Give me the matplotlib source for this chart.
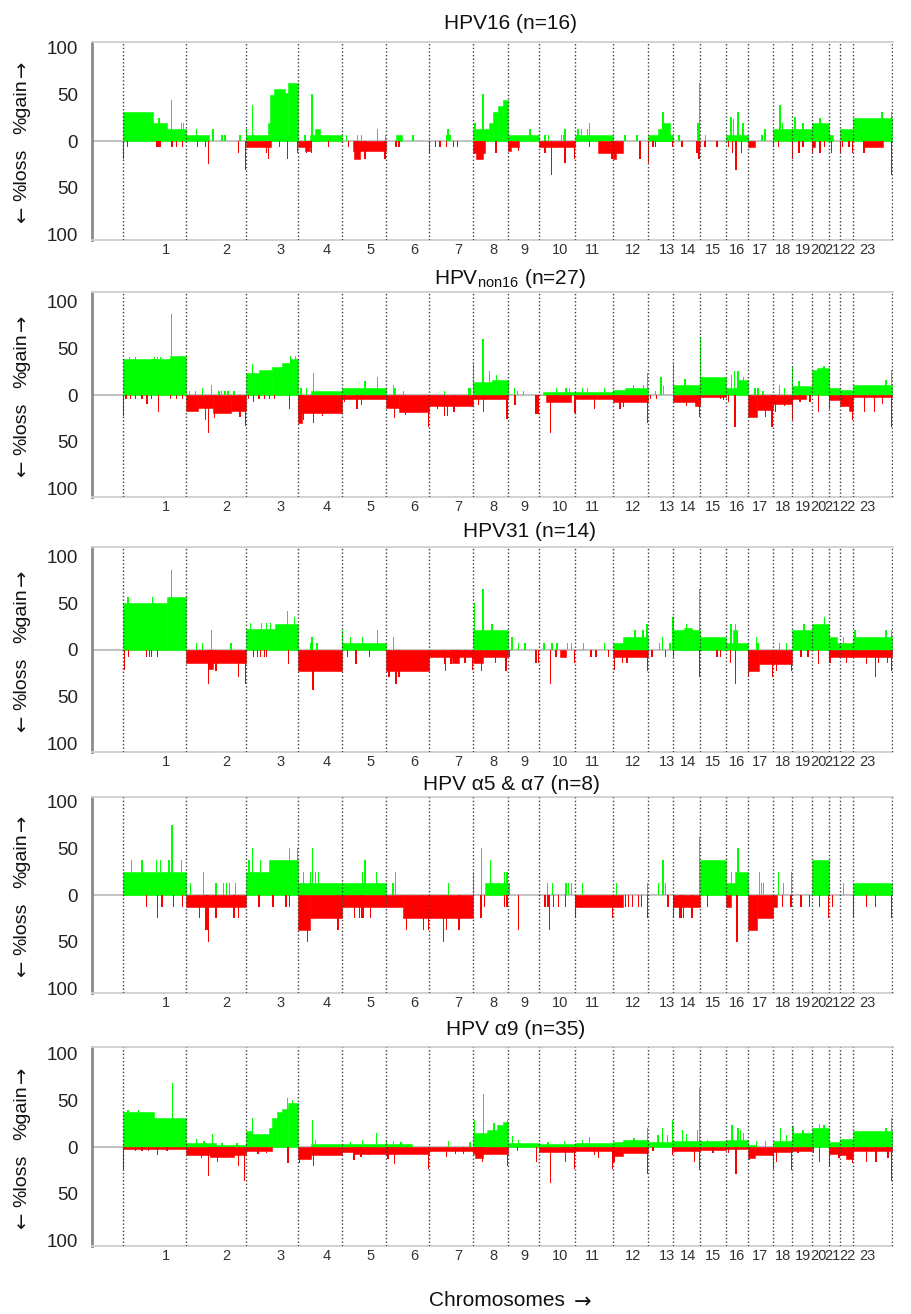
import matplotlib
matplotlib.use('Agg')
import matplotlib.pyplot as plt
import numpy as np

plt.rcParams['font.family'] = ['Liberation Sans', 'DejaVu Sans']
plt.rcParams['mathtext.fontset'] = 'custom'
plt.rcParams['mathtext.rm'] = 'Liberation Sans'
plt.rcParams['mathtext.it'] = 'Liberation Sans:italic'

# ---------------- data ----------------
chromosomes = [str(i) for i in range(1, 24)]
chrom_sizes = [63, 60, 52, 44, 44, 43, 44, 35, 31, 36, 38, 35, 25, 27, 26, 22, 25, 19, 20, 17, 11, 13, 39]
label_frac = [0.68, 0.67, 0.67, 0.66, 0.64, 0.67, 0.66, 0.57, 0.52, 0.58, 0.47, 0.57, 0.76, 0.56,
              0.5, 0.5, 0.48, 0.53, 0.55, 0.35, 0.27, 0.54, 0.38]

titles = ['HPV16 (n=16)', r'HPV$_{\mathrm{non16}}$ (n=27)', 'HPV31 (n=14)',
          'HPV \u03b15 & \u03b17 (n=8)', 'HPV \u03b19 (n=35)']

# segments: (chromosome, start fraction, end fraction, percent)
# spikes:   (chromosome, position fraction, percent)
p1_gain_seg = [(1,0,0.48,31),(1,0.48,0.70,19),(1,0.70,1,13),(2,0,0.38,6),
    (3,0,0.42,6),(3,0.42,0.46,19),(3,0.46,0.54,49),(3,0.54,0.75,56),(3,0.75,0.81,51),(3,0.81,1,62),
    (4,0.27,1,6),(4,0.39,0.5,13),(6,0.23,0.37,6),
    (8,0,0.46,13),(8,0.46,0.57,19),(8,0.57,0.71,31),(8,0.71,0.86,37),(8,0.86,1,44),
    (9,0,1,6),(11,0,1,6),(13,0,1,6),(13,0.4,0.7,13),(13,0.6,0.88,19),(16,0,1,6),
    (18,0,1,13),(19,0,1,13),(20,0,1,19),(21,0,0.4,6),(22,0,1,13),(23,0,1,25)]
p1_gain_spk = [(1,0.57,25),(1,0.77,44),(1,0.93,19),(1,0.96,19),
    (2,0.18,13),(2,0.45,13),(2,0.6,6),(2,0.65,6),(2,0.9,6),(3,0.13,38),(3,0.01,13),
    (4,0.16,6),(4,0.3,19),(4,0.32,50),(5,0.11,6),(5,0.36,6),(5,0.45,6),(5,0.8,13),(5,0.99,6),
    (6,0.63,6),(7,0.39,6),(7,0.43,13),(7,0.48,6),(8,0.06,19),(8,0.29,50),(9,0.71,13),
    (10,0.17,6),(10,0.26,6),(10,0.63,6),(10,0.69,6),(10,0.72,13),
    (11,0.08,13),(11,0.18,13),(11,0.32,13),(11,0.39,19),(12,0.34,6),(12,0.69,6),(13,0.6,31),
    (14,0.22,6),(14,0.93,19),(14,0.98,62),(15,0.2,6),
    (16,0.23,26),(16,0.33,23),(16,0.55,31),(16,0.77,19),(17,0.56,6),(17,0.68,13),
    (18,0.37,38),(18,0.5,19),(19,0.15,26),(19,0.55,19),(20,0.47,25),(23,0.74,31),(23,0.99,31)]
p1_loss_seg = [(3,0,0.48,6),(4,0,0.3,6),(4,0.16,0.27,11),(5,0.25,1,11),(5,0.27,0.41,19),
    (8,0,0.34,13),(8,0.1,0.28,19),(9,0,0.35,6),(9,0,0.1,11),(10,0,1,6),(11,0.6,1,13),
    (12,0,0.3,13),(12,0,0.1,19),(14,0.85,1,6),(17,0,0.3,6),(20,0,0.15,6),(23,0.25,0.78,6)]
p1_loss_spk = [(1,0.01,19),(1,0.07,6),(1,0.54,6),(1,0.57,6),(1,0.6,6),(1,0.78,6),(1,0.85,6),(1,0.94,6),
    (2,0.19,6),(2,0.33,6),(2,0.38,25),(2,0.88,13),(2,0.99,31),
    (3,0.4,13),(3,0.43,19),(3,0.65,6),(3,0.8,19),(3,0.99,13),(4,0.2,13),(4,0.3,13),(4,0.7,6),
    (5,0.14,6),(5,0.52,19),(5,0.98,19),(6,0.23,6),(6,0.3,6),
    (7,0.01,13),(7,0.14,6),(7,0.25,6),(7,0.39,6),(7,0.55,6),(7,0.64,6),(8,0.66,13),(9,0.33,11),
    (10,0.17,13),(10,0.34,36),(10,0.72,24),(10,0.99,19),(11,0.39,6),(11,0.97,19),
    (12,0.77,19),(13,0.01,24),(13,0.2,6),(13,0.3,6),(13,0.99,6),(14,0.33,6),(14,0.89,13),(14,0.96,19),
    (15,0.19,6),(15,0.65,6),(16,0.1,6),(16,0.3,13),(16,0.45,31),(16,0.7,13),(18,0.01,6),(18,0.3,6),
    (19,0.02,19),(19,0.35,13),(19,0.55,6),(20,0.05,13),(20,0.47,13),(20,0.75,6),(21,0.25,13),
    (22,0.02,13),(22,0.2,6),(22,0.7,6),(22,0.95,13),(23,0.28,13),(23,0.76,6),(23,0.99,36)]

p2_gain_seg = [(1,0,0.75,38),(1,0.75,1,42),
    (3,0,0.25,24),(3,0.25,0.5,27),(3,0.5,0.7,30),(3,0.7,0.85,34),(3,0.85,1,38),
    (4,0.3,1,4),(5,0,1,8),(8,0,1,14),(8,0.55,1,16),(10,0.1,1,3),(11,0,1,3),
    (12,0,0.35,5),(12,0.35,1,8),(14,0,1,11),(15,0,1,19),(16,0,0.5,8),(16,0.5,1,16),
    (19,0,1,10),(20,0,0.3,27),(20,0.3,1,29),(21,0,1,7),(22,0,1,5),(23,0,1,11)]
p2_gain_spk = [(1,0.1,41),(1,0.2,41),(1,0.5,41),(1,0.55,41),(1,0.6,41),(1,0.77,87),
    (2,0.06,4),(2,0.16,4),(2,0.27,8),(2,0.42,11),(2,0.55,4),(2,0.59,4),(2,0.65,4),(2,0.7,4),(2,0.8,4),
    (3,0.13,33),(3,0.85,42),(3,0.95,42),(4,0.07,7),(4,0.2,7),(4,0.35,23),(5,0.52,15),(5,0.8,19),
    (6,0.17,11),(6,0.21,8),(6,0.4,4),(7,0.36,4),(7,0.9,8),(7,0.93,8),
    (8,0.01,34),(8,0.29,60),(8,0.47,26),(8,0.68,21),(9,0.2,7),(9,0.3,4),(9,0.5,4),
    (10,0.48,8),(10,0.75,8),(10,0.85,7),(11,0.2,8),(11,0.32,8),(11,0.78,7),
    (12,0.58,11),(12,0.88,11),(12,0.98,23),(13,0.3,4),(13,0.52,19),(13,0.62,10),
    (14,0.01,34),(14,0.45,17),(15,0.01,62),(16,0.25,21),(16,0.4,26),(16,0.55,26),(16,0.78,19),
    (17,0.28,8),(17,0.4,8),(17,0.6,4),(18,0.35,11),(18,0.6,7),(19,0.01,31),(19,0.35,15),
    (20,0.7,31),(23,0.85,16),(23,0.99,27)]
p2_loss_seg = [(2,0,0.2,17),(2,0.2,0.45,14),(2,0.45,0.75,19),(2,0.75,1,17),
    (4,0,1,19),(4,0,0.1,30),(5,0,1,4),(6,0,0.3,14),(6,0.3,1,18),(7,0,1,12),(8,0,1,4),
    (10,0.2,0.9,7),(11,0,1,4),(12,0,1,8),(14,0,1,7),(14,0.8,1,12),(15,0,1,2),
    (17,0,0.35,23),(17,0.35,1,16),(18,0,1,10),(19,0,0.7,4),(21,0,1,5),(22,0,0.7,12),(22,0.7,1,17),(23,0,1,2)]
p2_loss_spk = [(1,0.01,22),(1,0.05,4),(1,0.12,4),(1,0.2,4),(1,0.3,4),(1,0.38,10),(1,0.45,4),(1,0.56,18),
    (1,0.75,4),(1,0.85,4),(1,0.95,4),(2,0.33,27),(2,0.38,41),(2,0.48,25),(2,0.9,23),(2,0.99,33),
    (3,0.05,4),(3,0.15,7),(3,0.25,4),(3,0.35,4),(3,0.45,4),(3,0.55,4),(3,0.83,15),
    (4,0.12,27),(4,0.35,30),(4,0.55,22),(5,0.06,7),(5,0.34,15),(5,0.45,11),
    (6,0.2,25),(6,0.45,21),(6,0.99,34),(7,0.2,15),(7,0.36,22),(7,0.42,22),(7,0.57,18),
    (8,0.15,11),(8,0.3,18),(8,0.97,26),(9,0.23,11),(9,0.9,20),(9,0.97,20),
    (10,0.31,41),(10,0.45,7),(10,0.99,19),(11,0.02,19),(11,0.52,15),
    (12,0.2,15),(12,0.3,13),(12,0.98,30),(13,0.1,4),(13,0.35,4),(14,0.5,12),(14,0.98,23),
    (15,0.8,4),(15,0.9,5),(16,0.1,7),(16,0.41,34),(17,0.7,23),(17,0.96,34),(18,0.15,18),(18,0.6,12),
    (19,0.01,27),(19,0.4,7),(19,0.9,7),(20,0.4,18),(21,0.05,15),(22,0.97,27),
    (23,0.3,18),(23,0.56,18),(23,0.75,10),(23,0.99,34)]

p3_gain_seg = [(1,0,0.7,50),(1,0.7,1,57),(3,0,0.55,22),(3,0.55,1,28),(5,0,1,7),(8,0,1,21),
    (12,0,0.3,7),(12,0.3,1,14),(14,0,1,21),(14,0.4,0.7,24),(15,0,1,14),(16,0,1,7),(16,0.3,0.5,21),
    (19,0,1,21),(20,0,1,28),(21,0,0.7,14),(21,0.7,1,7),(22,0,1,7),(23,0,1,14)]
p3_gain_spk = [(1,0.08,57),(1,0.47,57),(1,0.77,86),(1,0.95,50),
    (2,0.18,7),(2,0.27,7),(2,0.43,21),(2,0.75,7),
    (3,0.08,29),(3,0.3,29),(3,0.4,29),(3,0.47,29),(3,0.8,42),(3,0.93,35),
    (4,0.28,7),(4,0.32,14),(4,0.43,7),(5,0.01,21),(5,0.2,14),(5,0.47,14),(5,0.8,21),(6,0.17,14),
    (8,0.05,50),(8,0.29,65),(8,0.54,28),(9,0.13,14),(9,0.35,7),(9,0.55,7),
    (10,0.14,7),(10,0.36,7),(10,0.5,7),(10,0.8,7),(10,0.9,7),(11,0.22,7),(11,0.78,7),
    (12,0.63,21),(12,0.86,21),(12,0.97,28),(13,0.45,7),(13,0.57,14),(13,0.88,7),(13,0.99,35),
    (14,0.02,35),(14,0.5,28),(14,0.99,65),(16,0.23,28),(16,0.43,28),(16,0.52,21),
    (17,0.33,14),(17,0.4,7),(18,0.35,7),(18,0.7,7),(19,0.6,28),(20,0.75,35),(22,0.27,14),
    (23,0.05,21),(23,0.85,21),(23,0.99,21)]
p3_loss_seg = [(2,0,1,14),(2,0.37,0.45,20),(4,0,1,22),(6,0,1,22),(7,0,1,7),(7,0.52,0.68,14),
    (8,0,0.3,14),(8,0.3,1,7),(10,0.57,0.76,7),(12,0,1,7),(17,0,0.45,22),(17,0.45,1,15),
    (18,0,1,15),(21,0,1,7),(22,0,1,7),(23,0,1,7)]
p3_loss_spk = [(1,0.02,21),(1,0.09,7),(1,0.37,7),(1,0.42,7),(1,0.45,7),(1,0.55,7),
    (2,0.38,36),(2,0.5,22),(2,0.88,29),(2,0.99,36),
    (3,0.15,7),(3,0.22,7),(3,0.28,7),(3,0.35,7),(3,0.4,7),(3,0.82,15),(4,0.34,43),
    (5,0.12,7),(5,0.32,15),(5,0.63,7),(6,0.07,29),(6,0.23,36),(6,0.3,29),
    (7,0.36,15),(7,0.38,22),(7,0.5,15),(7,0.82,14),(7,0.99,21),(8,0.25,22),(8,0.65,14),(8,0.94,22),
    (9,0.05,7),(9,0.9,14),(9,0.98,14),(10,0.31,36),(10,0.47,7),(10,0.99,14),
    (11,0.42,7),(11,0.55,7),(11,0.88,7),(12,0.04,21),(12,0.27,14),(12,0.4,14),(12,0.99,22),
    (13,0.16,7),(13,0.7,7),(14,0.01,7),(14,0.97,29),(15,0.65,7),(15,0.8,7),(16,0.2,14),(16,0.43,36),
    (17,0.02,29),(17,0.97,29),(18,0.2,22),(18,0.97,22),(19,0.45,7),(19,0.8,7),(20,0.4,15),
    (21,0.1,14),(22,0.5,14),(23,0.35,15),(23,0.58,29),(23,0.65,14),(23,0.88,14),(23,0.99,22)]

p4_gain_seg = [(1,0,1,25),(3,0,0.45,25),(3,0.45,1,37.5),(4,0,1,12.5),(5,0,1,12.5),(8,0.33,1,12.5),
    (15,0,1,37.5),(16,0,1,12.5),(16,0.4,1,25),(20,0,1,37.5),(23,0,1,12.5)]
p4_gain_spk = [(1,0.13,37.5),(1,0.3,37.5),(1,0.53,37.5),(1,0.59,37.5),(1,0.73,37.5),(1,0.78,75),(1,0.93,37.5),
    (2,0.07,12.5),(2,0.29,25),(2,0.5,12.5),(2,0.63,12.5),(2,0.68,12.5),(2,0.72,12.5),(2,0.82,12.5),
    (3,0.06,37.5),(3,0.13,50),(3,0.28,37.5),(3,0.83,50),(3,0.99,50),
    (4,0.12,25),(4,0.28,25),(4,0.33,50),(4,0.4,25),(4,0.47,25),(5,0.47,25),(5,0.52,37.5),(5,0.78,25),
    (6,0.16,12.5),(6,0.22,25),(7,0.44,12.5),
    (8,0.02,25),(8,0.25,50),(8,0.51,37.5),(8,0.9,25),(8,0.97,25),(9,0.05,12.5),
    (10,0.23,12.5),(10,0.37,12.5),(10,0.75,12.5),(10,0.82,12.5),(10,0.9,12.5),(11,0.19,12.5),
    (12,0.1,12.5),(12,0.99,12.5),(13,0.43,12.5),(13,0.6,37.5),(13,0.7,12.5),(14,0.99,62.5),
    (16,0.25,25),(16,0.55,50),(17,0.45,25),(17,0.55,12.5),(17,0.62,12.5),
    (18,0.3,25),(18,0.57,12.5),(18,0.99,25),(22,0.27,12.5)]
p4_loss_seg = [(2,0,1,12.5),(4,0,0.28,37.5),(4,0.28,1,25),(5,0,1,12.5),(6,0,0.4,12.5),(6,0.4,1,25),
    (7,0,1,25),(11,0,1,12.5),(12,0,0.3,12.5),(14,0,1,12.5),(16,0,0.25,12.5),
    (17,0,0.35,37.5),(17,0.35,1,25),(18,0,0.2,12.5)]
p4_loss_spk = [(1,0.37,12.5),(1,0.55,25),(1,0.62,12.5),(1,0.8,12.5),(1,0.95,12.5),
    (2,0.23,25),(2,0.33,37.5),(2,0.35,37.5),(2,0.38,50),(2,0.5,25),(2,0.8,25),(2,0.87,25),
    (3,0.25,12.5),(3,0.52,12.5),(3,0.77,12.5),(3,0.83,12.5),(4,0.22,50),(4,0.91,37.5),
    (5,0.29,25),(5,0.4,25),(5,0.44,25),(5,0.48,25),(5,0.65,25),(6,0.48,37.5),(6,0.88,37.5),(6,0.99,37.5),
    (7,0.33,50),(7,0.4,37.5),(7,0.68,37.5),(8,0.23,25),(8,0.33,12.5),(8,0.9,12.5),(8,0.97,12.5),
    (9,0.33,37.5),(10,0.17,12.5),(10,0.25,12.5),(10,0.3,37.5),(10,0.4,12.5),(10,0.55,12.5),(10,0.73,12.5),
    (11,0.01,25),(11,0.99,25),(12,0.36,12.5),(12,0.45,12.5),(12,0.55,12.5),(12,0.73,12.5),(12,0.82,12.5),
    (12,0.99,25),(13,0.8,12.5),(14,0.02,25),(14,0.25,25),(14,0.3,25),(14,0.38,25),(14,0.7,25),
    (15,0.3,12.5),(16,0.5,50),(18,0.5,12.5),(18,0.95,12.5),(19,0.45,12.5),(19,0.88,12.5),
    (20,0.45,12.5),(20,0.97,25),(21,0.3,12.5),(23,0.02,25),(23,0.34,12.5),(23,0.58,12.5),(23,0.99,25)]

p5_gain_seg = [(1,0,0.5,37),(1,0.5,1,31),(2,0,0.5,4),(2,0.5,1,2),
    (3,0,0.1,17),(3,0.1,0.45,14),(3,0.45,0.5,20),(3,0.5,0.6,31),(3,0.6,0.7,37),(3,0.7,0.8,41),(3,0.8,1,47),
    (4,0.3,1,3),(5,0,1,3),(6,0,0.6,3),(8,0,0.4,15),(8,0.4,0.7,18),(8,0.7,0.85,23),(8,0.85,1,27),
    (9,0,1,4),(10,0,1,3),(11,0,1,4),(12,0,0.3,5),(12,0.3,1,7),(13,0,1,5),(14,0,1,6),(15,0,1,6),
    (16,0,1,7),(17,0,0.3,2),(18,0,1,6),(19,0,1,15),(20,0,1,20),(21,0,1,5),(22,0,1,9),(23,0,1,17)]
p5_gain_spk = [(1,0.08,40),(1,0.25,40),(1,0.79,68),(2,0.18,9),(2,0.3,6),(2,0.44,14),(2,0.6,4),(2,0.85,4),
    (3,0.13,31),(3,0.8,52),(3,0.9,50),(4,0.33,29),(4,0.4,8),(5,0.2,5),(5,0.47,8),(5,0.78,15),
    (6,0.01,7),(6,0.17,6),(6,0.35,5),(7,0.44,6),(7,0.93,5),(8,0.04,29),(8,0.31,57),(8,0.6,26),(8,0.99,29),
    (9,0.15,12),(9,0.35,7),(10,0.25,5),(10,0.7,6),(11,0.2,7),(11,0.38,11),(12,0.6,10),(12,0.98,20),
    (13,0.4,13),(13,0.57,20),(13,0.78,13),(13,0.98,29),(14,0.35,18),(14,0.5,14),(14,0.9,18),(14,0.99,63),
    (15,0.3,8),(16,0.27,23),(16,0.55,20),(16,0.65,18),(16,0.8,15),(17,0.35,6),(17,0.7,6),
    (18,0.4,20),(18,0.7,13),(19,0.05,22),(19,0.55,18),(20,0.45,25),(20,0.7,23),(23,0.85,20),(23,0.99,31)]
p5_loss_seg = [(1,0,1,2),(2,0,1,9),(2,0.4,0.8,11),(3,0,0.5,4),(4,0,0.3,13),(4,0.3,1,9),(5,0,0.25,5),
    (5,0.25,1,7),(6,0,1,8),(7,0,1,4),(8,0,1,7),(8,0.05,0.3,12),(10,0,1,5),(11,0,1,4),(12,0,0.3,10),
    (12,0.3,1,6),(14,0,1,4),(15,0,1,3),(16,0,1,2),(17,0,0.3,12),(17,0.3,1,9),(18,0,1,5),(19,0,1,4),
    (21,0,1,7),(22,0,0.5,9),(22,0.5,1,13),(23,0,1,4)]
p5_loss_spk = [(1,0.01,25),(1,0.2,4),(1,0.3,4),(1,0.4,4),(1,0.55,9),(1,0.7,4),
    (2,0.26,12),(2,0.38,31),(2,0.52,16),(2,0.87,20),(2,0.98,36),(3,0.23,8),(3,0.4,6),(3,0.81,17),
    (4,0.04,17),(4,0.35,20),(5,0.27,14),(5,0.43,11),(5,0.6,9),(6,0.05,13),(6,0.2,18),(6,0.99,23),
    (7,0.4,11),(7,0.6,8),(7,0.78,8),(8,0.27,16),(8,0.98,20),(9,0.3,4),(9,0.93,16),
    (10,0.31,39),(10,0.74,16),(10,0.98,23),(11,0.52,9),(11,0.62,12),(11,0.99,23),(12,0.03,16),(12,0.98,29),
    (13,0.2,4),(13,0.98,9),(14,0.8,16),(14,0.97,25),(15,0.5,6),(16,0.1,6),(16,0.45,29),(17,0.05,14),
    (18,0.01,23),(18,0.2,16),(18,0.97,25),(19,0.3,6),(20,0.1,6),(20,0.45,16),(21,0.01,20),(21,0.9,12),
    (22,0.97,17),(23,0.34,16),(23,0.59,16),(23,0.9,12),(23,0.99,36)]

panels = [
    (p1_gain_seg, p1_gain_spk, p1_loss_seg, p1_loss_spk),
    (p2_gain_seg, p2_gain_spk, p2_loss_seg, p2_loss_spk),
    (p3_gain_seg, p3_gain_spk, p3_loss_seg, p3_loss_spk),
    (p4_gain_seg, p4_gain_spk, p4_loss_seg, p4_loss_spk),
    (p5_gain_seg, p5_gain_spk, p5_loss_seg, p5_loss_spk),
]

# ---------------- layout / style ----------------
W, H = 912, 1314
fig = plt.figure(figsize=(W / 100, H / 100), dpi=100)
GREEN = '#00ff00'
RED = '#ff0000'
PPU = 0.935          # pixels per percent
AX_L, AX_R = 92, 893
panel_px = [(42, 141, 240), (292, 395, 497), (547, 650, 752), (797, 895, 993), (1047, 1147, 1246)]
title_px = [(511, 29), (510, 284), (530, 537), (511, 790), (516, 1035)]

sizes = np.array(chrom_sizes, dtype=float)
starts = np.concatenate([[0.0], np.cumsum(sizes)])
SPK_W = 1.3


def seg_geom(c, a, b):
    s = starts[c - 1]
    w = sizes[c - 1]
    return s + a * w, (b - a) * w


def spk_x(c, f):
    s = starts[c - 1]
    w = sizes[c - 1]
    return float(np.clip(s + f * w, s + SPK_W / 2, s + w - SPK_W / 2))


for i, (gseg, gspk, lseg, lspk) in enumerate(panels):
    top, zero, bot = panel_px[i]
    ax = fig.add_axes([AX_L / W, 1 - bot / H, (AX_R - AX_L) / W, (bot - top) / H])
    ax.set_xlim(-31, 770)
    ax.set_ylim(-(bot - zero) / PPU, (zero - top) / PPU)

    ax.axhline(0, color='#c4c4c4', lw=1.5, zorder=1)

    for sign, seg, spk, col in ((1, gseg, gspk, GREEN), (-1, lseg, lspk, RED)):
        xs = [seg_geom(c, a, b)[0] for c, a, b, v in seg]
        ws = [seg_geom(c, a, b)[1] for c, a, b, v in seg]
        hs = [sign * v for c, a, b, v in seg]
        ax.bar(xs, hs, width=ws, align='edge', color=col, edgecolor=col, linewidth=0.4, zorder=2)
        xs = [spk_x(c, f) for c, f, v in spk]
        hs = [sign * v for c, f, v in spk]
        ax.bar(xs, hs, width=SPK_W, align='center', color=col, linewidth=0, zorder=2)

    for s in starts:
        ax.axvline(s, color='#3a3a3a', lw=1.0, linestyle=(0, (1, 1.6)), zorder=4)

    ax.set_yticks([100, 50, 0, -50, -100])
    ax.set_yticklabels(['100', '50', '0', '50', '100'], fontsize=13.5, color='#222222')
    ax.tick_params(axis='y', length=0, pad=10)
    ax.set_xticks([])
    for k in range(23):
        xl = starts[k] + label_frac[k] * sizes[k]
        ax.annotate(chromosomes[k], xy=(xl, 0), xycoords=('data', 'axes fraction'),
                    xytext=(0, -7), textcoords='offset points', ha='center', va='center',
                    fontsize=10.5, color='#333333', annotation_clip=False)

    ax.spines['right'].set_visible(False)
    ax.spines['left'].set_color('#8a8a8a')
    ax.spines['left'].set_linewidth(2)
    for sp in ('top', 'bottom'):
        ax.spines[sp].set_color('#cfcfcf')
        ax.spines[sp].set_linewidth(1.3)

    tx, ty = title_px[i]
    fig.text(tx / W, 1 - ty / H, titles[i], ha='center', va='baseline', fontsize=15, color='#111111')

    # y-axis caption: "%gain→" above zero, "← %loss" below zero (rotated)
    fig.text(22 / W, 1 - (zero - 62) / H, '%gain', rotation=90, ha='center', va='top',
             fontsize=14, color='#111111')
    fig.text(22 / W, 1 - (zero - 64) / H, '\u2192', rotation=90, ha='center', va='bottom',
             fontsize=14, color='#111111', family=['DejaVu Sans'])
    fig.text(22 / W, 1 - (zero + 60) / H, '%loss', rotation=90, ha='center', va='bottom',
             fontsize=14, color='#111111')
    fig.text(22 / W, 1 - (zero + 66) / H, '\u2190', rotation=90, ha='center', va='top',
             fontsize=14, color='#111111', family=['DejaVu Sans'])

fig.text(497 / W, 1 - 1301 / H, 'Chromosomes', ha='center', va='center', fontsize=15, color='#111111')
fig.text(574 / W, 1 - 1302 / H, '\u2192', ha='left', va='center', fontsize=15, color='#111111',
         family=['DejaVu Sans'])

fig.savefig('out.png', dpi=100, facecolor='white')
